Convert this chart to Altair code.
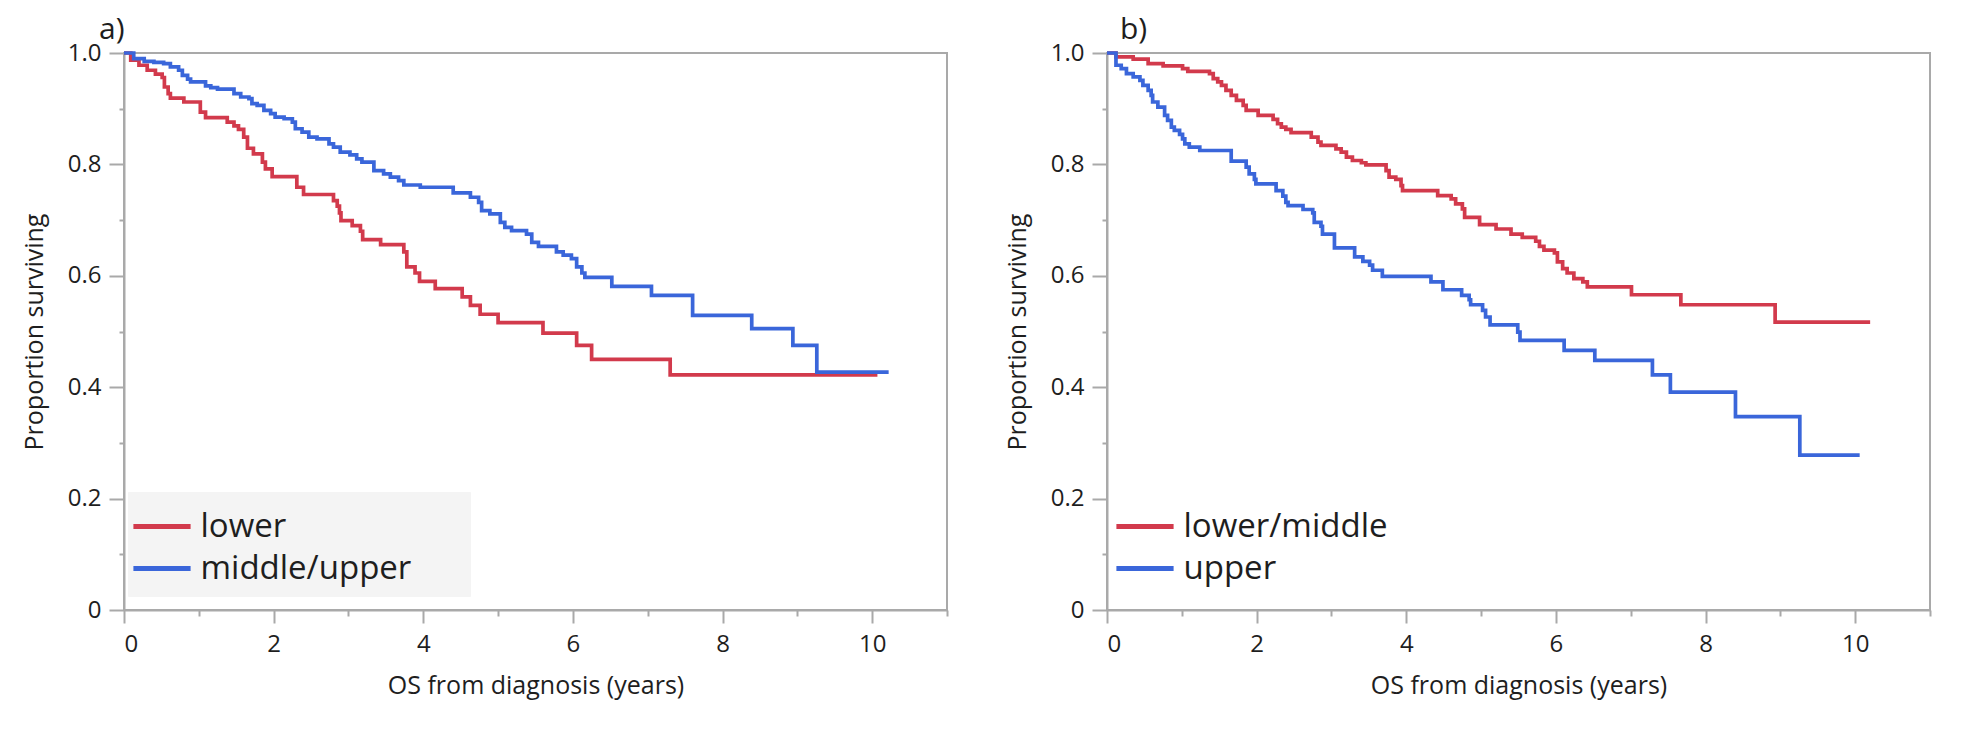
import altair as alt
import pandas as pd

# ---------------- data ----------------
A_GROUPS = ["lower", "middle/upper"]
B_GROUPS = ["lower/middle", "upper"]

A_LOWER_T = [0, 0.09, 0.20, 0.31, 0.42, 0.51, 0.54, 0.59, 0.62, 0.80,
             1.02, 1.09, 1.38, 1.47, 1.53, 1.60, 1.65, 1.73, 1.85, 1.89,
             1.98, 2.31, 2.40, 2.80, 2.85, 2.88, 2.90, 3.05, 3.16, 3.19,
             3.43, 3.74, 3.78, 3.89, 3.95, 4.16, 4.52, 4.63, 4.76, 5.00,
             5.60, 6.05, 6.25, 7.30, 10.07]
A_LOWER_S = [1.0, .987, .978, .969, .962, .956, .939, .927, .919, .912,
             .894, .884, .876, .869, .863, .849, .829, .819, .804, .792,
             .778, .759, .746, .735, .725, .713, .699, .690, .680, .665,
             .656, .643, .616, .605, .590, .577, .562, .547, .531, .516,
             .497, .475, .450, .422, .422]

A_UPPER_T = [0, 0.13, 0.27, 0.40, 0.53, 0.62, 0.73, 0.78, 0.85, 0.89,
             1.09, 1.16, 1.25, 1.47, 1.56, 1.67, 1.71, 1.78, 1.87, 1.96,
             2.02, 2.14, 2.25, 2.29, 2.38, 2.47, 2.58, 2.74, 2.80, 2.89,
             3.02, 3.11, 3.18, 3.34, 3.47, 3.56, 3.67, 3.74, 3.96, 4.40,
             4.63, 4.74, 4.78, 4.89, 5.03, 5.09, 5.18, 5.38, 5.45, 5.54,
             5.78, 5.87, 5.98, 6.05, 6.12, 6.16, 6.52, 7.05, 7.60, 8.39,
             8.94, 9.26, 10.22]
A_UPPER_S = [1.0, .990, .985, .983, .981, .975, .969, .960, .953, .948,
             .941, .938, .935, .927, .921, .918, .909, .906, .897, .891,
             .885, .882, .876, .864, .858, .849, .846, .837, .831, .822,
             .817, .810, .804, .789, .783, .777, .771, .763, .759, .749,
             .741, .732, .717, .711, .696, .687, .681, .675, .660, .653,
             .643, .637, .631, .616, .605, .597, .581, .565, .529, .505,
             .475, .427, .427]

B_LOWER_T = [0, 0.12, 0.35, 0.55, 0.75, 1.01, 1.08, 1.37, 1.42, 1.48,
             1.53, 1.59, 1.66, 1.73, 1.82, 1.86, 2.02, 2.22, 2.28, 2.33,
             2.39, 2.46, 2.73, 2.82, 2.86, 3.06, 3.13, 3.20, 3.28, 3.40,
             3.46, 3.73, 3.77, 3.86, 3.93, 3.95, 4.42, 4.60, 4.66, 4.75,
             4.78, 4.98, 5.20, 5.40, 5.55, 5.73, 5.78, 5.84, 5.98, 6.02,
             6.09, 6.15, 6.24, 6.36, 6.42, 7.01, 7.67, 8.93, 10.20]
B_LOWER_S = [1.0, .993, .989, .981, .977, .972, .967, .963, .954, .948,
             .942, .933, .924, .915, .906, .897, .888, .881, .873, .867,
             .863, .857, .849, .840, .834, .828, .822, .813, .807, .803,
             .799, .789, .777, .773, .762, .753, .744, .738, .729, .720,
             .705, .692, .684, .675, .669, .662, .653, .646, .641, .625,
             .613, .605, .595, .589, .580, .566, .548, .517, .517]

B_UPPER_T = [0, 0.12, 0.19, 0.26, 0.35, 0.44, 0.48, 0.55, 0.59, 0.61,
             0.68, 0.77, 0.81, 0.86, 0.90, 0.97, 1.01, 1.04, 1.10, 1.24,
             1.66, 1.86, 1.90, 1.97, 1.99, 2.26, 2.35, 2.39, 2.42, 2.62,
             2.75, 2.77, 2.86, 2.88, 3.04, 3.31, 3.42, 3.51, 3.55, 3.68,
             4.33, 4.49, 4.74, 4.84, 4.86, 5.02, 5.06, 5.12, 5.49, 5.52,
             6.11, 6.52, 7.29, 7.53, 8.40, 9.26, 10.06]
B_UPPER_S = [1.0, .978, .972, .963, .957, .951, .942, .933, .924, .912,
             .903, .888, .879, .867, .861, .854, .846, .837, .831, .825,
             .806, .795, .783, .773, .765, .753, .743, .732, .726, .719,
             .713, .696, .689, .675, .650, .634, .626, .619, .610, .599,
             .589, .575, .565, .557, .548, .538, .526, .512, .499, .484,
             .466, .448, .422, .391, .347, .278, .278]

X_MAJOR = [0, 2, 4, 6, 8, 10]
X_MINOR = [1, 3, 5, 7, 9, 11]
Y_MAJOR = [0, 0.2, 0.4, 0.6, 0.8, 1.0]
Y_MINOR = [0.1, 0.3, 0.5, 0.7, 0.9]

# ---------------- styling ----------------
FONT = "Open Sans"
GRAY = "#a9a9a9"
TXT = "#1e1e1e"
RED = "#d23a4c"
BLUE = "#3a66da"
W, H = 823, 557
PAD_CHARS = "\u2800" * 2  # blank filler so the legend box gets its reference width


def make_df(panel, groups, series):
    rows = []
    for g, (ts, ss) in zip(groups, series):
        for i, (t, s) in enumerate(zip(ts, ss)):
            rows.append({"panel": panel, "group": g, "t": t, "s": s, "i": i})
    return pd.DataFrame(rows)


df_a = make_df("a", A_GROUPS, [(A_LOWER_T, A_LOWER_S), (A_UPPER_T, A_UPPER_S)])
df_b = make_df("b", B_GROUPS, [(B_LOWER_T, B_LOWER_S), (B_UPPER_T, B_UPPER_S)])

XSCALE = alt.Scale(domain=[0, 11], nice=False, zero=False)
YSCALE = alt.Scale(domain=[0, 1], nice=False)


def panel(df, groups, label, title_dx, legend_fill, pad_chars):
    x_major = alt.Axis(values=X_MAJOR, tickSize=13, labelPadding=9, labelFontSize=24,
                       labelFont=FONT, labelColor=TXT, title="OS from diagnosis (years)",
                       titleFontSize=25, titleFont=FONT, titleColor=TXT, titleFontWeight="normal",
                       titleX=W / 2, titleY=83, titleBaseline="alphabetic", orient="bottom",
                       grid=False)
    y_major = alt.Axis(values=Y_MAJOR, tickSize=15, labelPadding=8, labelFontSize=24,
                       labelFont=FONT, labelColor=TXT,
                       labelExpr="datum.value == 0 ? '0' : format(datum.value, '.1f')",
                       title="Proportion surviving", titleFontSize=25, titleFont=FONT,
                       titleColor=TXT, titleFontWeight="normal", titleX=-82, titleY=H / 2,
                       titleBaseline="alphabetic", titleAngle=270, titleAlign="center",
                       orient="left", grid=False)
    legend = alt.Legend(title=None, orient="none", legendX=4, legendY=439,
                        direction="vertical", symbolType="M-1.3,0H1.3", symbolSize=1936,
                        symbolStrokeWidth=5, labelFontSize=33, labelFont=FONT,
                        labelColor=TXT, padding=10, rowPadding=-2, labelOffset=14,
                        symbolOffset=-0.5, labelLimit=700,
                        labelExpr="datum.label + '" + pad_chars + "'",
                        fillColor=legend_fill, strokeColor=legend_fill)
    lines = alt.Chart(df).mark_line(interpolate="step-after", strokeWidth=3.7).encode(
        x=alt.X("t:Q", scale=XSCALE, axis=x_major),
        y=alt.Y("s:Q", scale=YSCALE, axis=y_major),
        color=alt.Color("group:N", scale=alt.Scale(domain=groups, range=[RED, BLUE]),
                        legend=legend),
        order="i:Q",
    )
    minor = alt.Chart(df).mark_point(opacity=0).encode(
        x=alt.X("t:Q", scale=XSCALE,
                axis=alt.Axis(values=X_MINOR, tickSize=6, labels=False, domain=False,
                              title=None, orient="bottom", grid=False)),
        y=alt.Y("s:Q", scale=YSCALE,
                axis=alt.Axis(values=Y_MINOR, tickSize=5, labels=False, domain=False,
                              title=None, orient="left", grid=False)),
    )
    return alt.layer(lines, minor).resolve_axis(x="independent", y="independent").properties(
        width=W, height=H,
        title=alt.TitleParams(text=label, anchor="start", frame="group", dx=title_dx,
                              fontSize=30, font=FONT, color=TXT, fontWeight="normal",
                              offset=-4),
    )


pa = panel(df_a, A_GROUPS, "a)", -25, "#f4f4f4", PAD_CHARS)
pb = panel(df_b, B_GROUPS, "b)", 13, "transparent", "")

chart = alt.hconcat(pa, pb, spacing=55).resolve_scale(color="independent").resolve_legend(
    color="independent"
).properties(
    padding={"left": 13, "top": 6, "right": 5, "bottom": 5},
    background="white",
).configure_view(stroke=GRAY, strokeWidth=2).configure_axis(
    domainColor=GRAY, domainWidth=2, tickColor=GRAY, tickWidth=2
)

chart.save("out.html", embed_options={"renderer": "svg", "actions": False})
